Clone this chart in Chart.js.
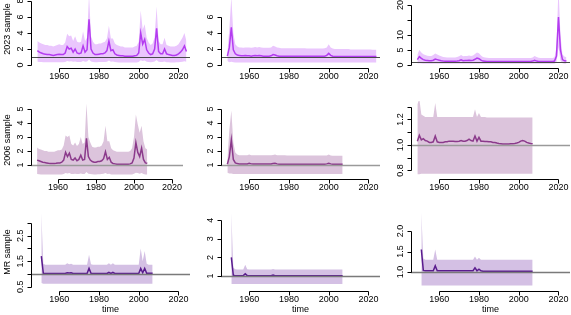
<!DOCTYPE html>
<html>
<head>
<meta charset="utf-8">
<script src="https://cdn.jsdelivr.net/npm/chart.js@4.4.1/dist/chart.umd.min.js"></script>
<style>
  html, body { margin: 0; padding: 0; background: #fff; }
  #grid { position: relative; width: 571px; height: 315px; overflow: hidden; }
  #grid canvas { position: absolute; }
</style>
</head>
<body>
<div id="grid"></div>
<script>
// Posterior median + interval of the rate multiplier, three samples x three series

function yearRange(from, to) {
    const out = [];
    for (let y = from; y <= to; y++) out.push(y);
    return out;
}

const YEARS_2023 = yearRange(1949, 2024);
const YEARS_2006 = yearRange(1949, 2007);
const YEARS_MR = yearRange(1951, 2007);
const X_TICKS = [1960, 1980, 2000, 2020];
const REF_LEVEL = 1;

// ---- 2023 sample ----
const a_med = [
    1.8, 1.6, 1.5, 1.4, 1.35, 1.3, 1.3, 1.25, 1.2, 1.25,
    1.3, 1.35, 1.3, 1.3, 1.5, 2.3, 2.0, 2.1, 1.6, 2.0,
    1.5, 1.4, 1.5, 2.4, 1.6, 1.9, 5.7, 2.0, 1.5, 1.3,
    1.3, 1.35, 1.4, 1.4, 1.5, 1.8, 3.0, 1.8, 1.9, 1.4,
    1.25, 1.2, 1.15, 1.15, 1.1, 1.1, 1.1, 1.1, 1.1, 1.15,
    1.2, 1.5, 4.0, 2.6, 3.2, 1.9, 1.5, 1.3, 1.4, 2.0,
    4.6, 1.7, 1.4, 1.4, 2.0, 1.4, 1.3, 1.25, 1.2, 1.2,
    1.25, 1.4, 1.6, 1.9, 2.4, 1.7
];
const a_hi = [
    3.0, 2.8, 2.7, 2.6, 2.5, 2.5, 2.4, 2.4, 2.3, 2.4,
    2.5, 2.6, 2.5, 2.5, 2.8, 3.9, 3.6, 3.7, 3.0, 3.6,
    2.9, 2.8, 2.9, 4.2, 3.0, 3.4, 8.8, 3.6, 2.9, 2.6,
    2.6, 2.7, 2.7, 2.8, 2.9, 3.3, 4.9, 3.3, 3.3, 2.7,
    2.5, 2.4, 2.3, 2.3, 2.2, 2.2, 2.2, 2.2, 2.2, 2.3,
    2.4, 2.9, 6.8, 4.4, 5.1, 3.4, 2.8, 2.5, 2.7, 3.5,
    7.3, 3.0, 2.6, 2.6, 3.4, 2.5, 2.4, 2.3, 2.3, 2.3,
    2.4, 2.6, 3.0, 3.4, 4.0, 3.0
];
const a_lo = [
    0.40, 0.38, 0.36, 0.35, 0.35, 0.34, 0.34, 0.33, 0.33, 0.34,
    0.35, 0.35, 0.34, 0.34, 0.38, 0.50, 0.45, 0.46, 0.40, 0.45,
    0.38, 0.37, 0.38, 0.50, 0.40, 0.44, 0.70, 0.45, 0.38, 0.35,
    0.35, 0.36, 0.36, 0.37, 0.38, 0.42, 0.55, 0.42, 0.43, 0.36,
    0.33, 0.32, 0.31, 0.31, 0.30, 0.30, 0.30, 0.30, 0.30, 0.31,
    0.32, 0.38, 0.60, 0.50, 0.55, 0.42, 0.37, 0.34, 0.36, 0.44,
    0.62, 0.40, 0.36, 0.36, 0.44, 0.35, 0.33, 0.32, 0.32, 0.32,
    0.33, 0.35, 0.38, 0.42, 0.48, 0.40
];

const b_med = [
    1.1, 2.2, 4.7, 1.9, 1.4, 1.25, 1.2, 1.15, 1.15, 1.2,
    1.15, 1.15, 1.1, 1.15, 1.2, 1.15, 1.2, 1.15, 1.1, 1.1,
    1.1, 1.1, 1.15, 1.3, 1.25, 1.15, 1.1, 1.1, 1.08, 1.08,
    1.08, 1.08, 1.08, 1.08, 1.08, 1.08, 1.08, 1.08, 1.08, 1.08,
    1.08, 1.08, 1.08, 1.08, 1.08, 1.08, 1.08, 1.08, 1.08, 1.1,
    1.2, 1.45, 1.2, 1.1, 1.06, 1.06, 1.05, 1.05, 1.05, 1.05,
    1.05, 1.05, 1.05, 1.05, 1.05, 1.05, 1.05, 1.05, 1.05, 1.05,
    1.05, 1.05, 1.05, 1.05, 1.05, 1.05
];
const b_hi = [
    1.6, 4.5, 8.5, 4.0, 2.6, 2.3, 2.2, 2.2, 2.15, 2.2,
    2.2, 2.2, 2.15, 2.2, 2.25, 2.2, 2.25, 2.2, 2.15, 2.15,
    2.15, 2.15, 2.2, 2.4, 2.3, 2.2, 2.15, 2.1, 2.1, 2.1,
    2.1, 2.1, 2.1, 2.1, 2.1, 2.1, 2.1, 2.1, 2.1, 2.1,
    2.05, 2.05, 2.05, 2.05, 2.05, 2.05, 2.05, 2.05, 2.05, 2.1,
    2.2, 2.6, 2.2, 2.05, 2.0, 2.0, 2.0, 2.0, 2.0, 2.0,
    2.0, 2.0, 1.95, 1.95, 1.95, 1.95, 1.95, 1.95, 1.95, 1.95,
    1.95, 1.95, 1.95, 1.9, 1.9, 1.9
];
const b_lo = [
    0.5, 0.35, 0.4, 0.33, 0.3, 0.3, 0.3, 0.3, 0.3, 0.3,
    0.3, 0.3, 0.3, 0.3, 0.3, 0.3, 0.3, 0.3, 0.3, 0.3,
    0.3, 0.3, 0.3, 0.3, 0.3, 0.3, 0.3, 0.3, 0.3, 0.3,
    0.3, 0.3, 0.3, 0.3, 0.3, 0.3, 0.3, 0.3, 0.3, 0.3,
    0.3, 0.3, 0.3, 0.3, 0.3, 0.3, 0.3, 0.3, 0.3, 0.3,
    0.3, 0.3, 0.3, 0.3, 0.3, 0.3, 0.3, 0.3, 0.3, 0.3,
    0.3, 0.3, 0.3, 0.3, 0.3, 0.3, 0.3, 0.3, 0.3, 0.3,
    0.3, 0.3, 0.3, 0.3, 0.3, 0.3
];

const c_med = [
    1.8, 2.8, 2.2, 1.8, 1.6, 1.5, 1.4, 1.4, 1.6, 2.0,
    1.8, 1.6, 1.4, 1.3, 1.25, 1.25, 1.25, 1.25, 1.25, 1.25,
    1.3, 1.4, 1.7, 1.4, 1.5, 1.5, 1.6, 1.5, 1.6, 1.9,
    2.3, 2.1, 1.6, 1.3, 1.25, 1.2, 1.2, 1.2, 1.2, 1.2,
    1.2, 1.2, 1.2, 1.2, 1.2, 1.2, 1.2, 1.2, 1.2, 1.2,
    1.2, 1.2, 1.2, 1.2, 1.2, 1.2, 1.2, 1.2, 1.3, 1.6,
    1.3, 1.2, 1.2, 1.2, 1.2, 1.2, 1.2, 1.2, 1.2, 1.3,
    3.0, 16.0, 5.0, 1.8, 1.4, 1.3
];
const c_hi = [
    3.5, 5.0, 4.2, 3.6, 3.3, 3.1, 3.0, 3.0, 3.3, 3.8,
    3.5, 3.2, 2.9, 2.7, 2.6, 2.5, 2.5, 2.5, 2.5, 2.5,
    2.7, 2.9, 3.3, 2.9, 3.0, 3.0, 3.2, 3.0, 3.2, 3.7,
    4.2, 3.9, 3.2, 2.7, 2.5, 2.4, 2.3, 2.3, 2.3, 2.3,
    2.3, 2.3, 2.3, 2.3, 2.3, 2.3, 2.3, 2.3, 2.3, 2.3,
    2.3, 2.3, 2.3, 2.3, 2.3, 2.3, 2.3, 2.3, 2.5, 3.0,
    2.7, 2.4, 2.3, 2.3, 2.3, 2.3, 2.3, 2.3, 2.3, 2.6,
    6.0, 26.0, 10.0, 3.5, 2.8, 2.6
];
const c_lo = [
    0.5, 0.6, 0.5, 0.45, 0.4, 0.4, 0.4, 0.4, 0.4, 0.4,
    0.4, 0.4, 0.4, 0.4, 0.4, 0.4, 0.4, 0.4, 0.4, 0.4,
    0.4, 0.4, 0.4, 0.4, 0.4, 0.4, 0.4, 0.4, 0.4, 0.4,
    0.4, 0.4, 0.4, 0.4, 0.4, 0.4, 0.4, 0.4, 0.4, 0.4,
    0.4, 0.4, 0.4, 0.4, 0.4, 0.4, 0.4, 0.4, 0.4, 0.4,
    0.4, 0.4, 0.4, 0.4, 0.4, 0.4, 0.4, 0.4, 0.4, 0.4,
    0.4, 0.4, 0.4, 0.4, 0.4, 0.4, 0.4, 0.4, 0.4, 0.4,
    0.8, 6.0, 1.5, 0.6, 0.4, 0.4
];

// ---- 2006 sample ----
const d_med = [
    1.35, 1.3, 1.25, 1.2, 1.18, 1.15, 1.12, 1.1, 1.1, 1.1,
    1.12, 1.15, 1.15, 1.2, 1.35, 1.9, 1.6, 1.85, 1.4, 1.35,
    1.5, 1.3, 1.4, 1.7, 1.35, 1.4, 2.9, 1.6, 1.35, 1.25,
    1.2, 1.2, 1.25, 1.25, 1.3, 1.45, 1.95, 1.4, 1.55, 1.2,
    1.1, 1.08, 1.05, 1.05, 1.05, 1.05, 1.05, 1.05, 1.06, 1.08,
    1.15, 1.5, 2.6, 1.9, 1.6, 2.2, 1.4, 1.15, 1.12
];
const d_hi = [
    2.25, 2.15, 2.1, 2.05, 2.0, 2.0, 1.95, 1.95, 1.95, 1.95,
    2.0, 2.05, 2.05, 2.1, 2.4, 3.1, 3.0, 3.1, 2.5, 2.4,
    2.6, 2.35, 2.5, 3.0, 2.5, 2.6, 5.4, 3.0, 2.6, 2.3,
    2.25, 2.25, 2.3, 2.3, 2.4, 2.7, 3.8, 2.7, 2.7, 2.2,
    2.05, 2.0, 1.95, 1.95, 1.95, 1.95, 1.95, 1.95, 1.95, 2.0,
    2.2, 3.0, 4.6, 3.9, 3.3, 3.8, 2.7, 2.2, 2.1
];
const d_lo = [
    0.35, 0.34, 0.33, 0.33, 0.33, 0.33, 0.33, 0.33, 0.33, 0.33,
    0.33, 0.33, 0.33, 0.33, 0.35, 0.42, 0.40, 0.42, 0.36, 0.35,
    0.37, 0.35, 0.36, 0.40, 0.35, 0.36, 0.50, 0.38, 0.35, 0.34,
    0.33, 0.33, 0.34, 0.34, 0.35, 0.37, 0.42, 0.36, 0.38, 0.33,
    0.32, 0.32, 0.32, 0.32, 0.32, 0.32, 0.32, 0.32, 0.32, 0.32,
    0.33, 0.37, 0.45, 0.42, 0.38, 0.43, 0.36, 0.33, 0.33
];

const e_med = [
    1.05, 1.6, 2.8, 1.4, 1.15, 1.1, 1.08, 1.08, 1.08, 1.08,
    1.08, 1.12, 1.08, 1.07, 1.07, 1.07, 1.07, 1.07, 1.07, 1.07,
    1.07, 1.07, 1.07, 1.1, 1.12, 1.08, 1.06, 1.06, 1.06, 1.06,
    1.06, 1.06, 1.06, 1.06, 1.06, 1.06, 1.06, 1.06, 1.06, 1.06,
    1.06, 1.06, 1.06, 1.06, 1.06, 1.06, 1.06, 1.06, 1.06, 1.06,
    1.08, 1.12, 1.08, 1.05, 1.05, 1.05, 1.05, 1.05, 1.05
];
const e_hi = [
    1.4, 3.5, 4.9, 2.6, 1.9, 1.75, 1.7, 1.7, 1.7, 1.7,
    1.7, 1.75, 1.7, 1.7, 1.7, 1.7, 1.7, 1.7, 1.7, 1.7,
    1.7, 1.7, 1.7, 1.72, 1.75, 1.7, 1.7, 1.7, 1.7, 1.7,
    1.68, 1.68, 1.68, 1.68, 1.68, 1.68, 1.68, 1.68, 1.68, 1.68,
    1.67, 1.67, 1.67, 1.67, 1.67, 1.67, 1.67, 1.67, 1.67, 1.67,
    1.68, 1.75, 1.68, 1.66, 1.66, 1.66, 1.66, 1.66, 1.66
];
const e_lo = [
    0.45, 0.4, 0.4, 0.36, 0.35, 0.35, 0.35, 0.35, 0.35, 0.35,
    0.35, 0.35, 0.35, 0.35, 0.35, 0.35, 0.35, 0.35, 0.35, 0.35,
    0.35, 0.35, 0.35, 0.35, 0.35, 0.35, 0.35, 0.35, 0.35, 0.35,
    0.35, 0.35, 0.35, 0.35, 0.35, 0.35, 0.35, 0.35, 0.35, 0.35,
    0.35, 0.35, 0.35, 0.35, 0.35, 0.35, 0.35, 0.35, 0.35, 0.35,
    0.35, 0.35, 0.35, 0.35, 0.35, 0.35, 0.35, 0.35, 0.35
];

const f_med = [
    1.03, 1.075, 1.04, 1.05, 1.035, 1.03, 1.02, 1.02, 1.025, 1.07,
    1.025, 1.02, 1.02, 1.02, 1.025, 1.025, 1.03, 1.03, 1.03, 1.028,
    1.028, 1.03, 1.035, 1.03, 1.03, 1.035, 1.045, 1.035, 1.03, 1.07,
    1.03, 1.06, 1.03, 1.03, 1.028, 1.028, 1.025, 1.025, 1.02, 1.02,
    1.015, 1.012, 1.01, 1.008, 1.008, 1.008, 1.008, 1.01, 1.01, 1.012,
    1.015, 1.02, 1.03, 1.035, 1.03, 1.02, 1.015, 1.012, 1.01
];
const f_hi = [
    1.32, 1.36, 1.24, 1.23, 1.22, 1.22, 1.22, 1.22, 1.22, 1.33,
    1.22, 1.22, 1.22, 1.22, 1.22, 1.22, 1.22, 1.22, 1.22, 1.22,
    1.22, 1.22, 1.22, 1.22, 1.22, 1.22, 1.22, 1.22, 1.22, 1.28,
    1.22, 1.25, 1.22, 1.22, 1.22, 1.215, 1.215, 1.215, 1.215, 1.215,
    1.215, 1.215, 1.215, 1.215, 1.215, 1.215, 1.215, 1.215, 1.215, 1.215,
    1.215, 1.215, 1.215, 1.215, 1.215, 1.215, 1.215, 1.215, 1.215
];
const f_lo = [
    0.77, 0.77, 0.775, 0.775, 0.775, 0.775, 0.775, 0.775, 0.775, 0.775,
    0.775, 0.775, 0.775, 0.775, 0.775, 0.775, 0.775, 0.775, 0.775, 0.775,
    0.775, 0.775, 0.775, 0.775, 0.775, 0.775, 0.775, 0.775, 0.775, 0.775,
    0.775, 0.775, 0.775, 0.775, 0.775, 0.775, 0.775, 0.775, 0.775, 0.775,
    0.775, 0.775, 0.775, 0.775, 0.775, 0.775, 0.775, 0.775, 0.775, 0.775,
    0.775, 0.775, 0.775, 0.775, 0.775, 0.775, 0.775, 0.775, 0.775
];

// ---- MR sample ----
const g_med = [
    1.7, 1.03, 1.02, 1.02, 1.02, 1.02, 1.02, 1.02, 1.02, 1.02,
    1.02, 1.02, 1.02, 1.05, 1.04, 1.05, 1.02, 1.02, 1.02, 1.02,
    1.02, 1.02, 1.02, 1.02, 1.22, 1.03, 1.02, 1.02, 1.02, 1.02,
    1.02, 1.02, 1.02, 1.02, 1.06, 1.02, 1.06, 1.02, 1.02, 1.02,
    1.02, 1.02, 1.02, 1.02, 1.02, 1.02, 1.02, 1.02, 1.02, 1.02,
    1.22, 1.05, 1.22, 1.03, 1.03, 1.03, 1.03
];
const g_hi = [
    3.4, 1.4, 1.36, 1.36, 1.36, 1.36, 1.36, 1.36, 1.36, 1.36,
    1.36, 1.36, 1.36, 1.42, 1.38, 1.4, 1.36, 1.36, 1.36, 1.36,
    1.36, 1.36, 1.36, 1.36, 1.75, 1.38, 1.36, 1.36, 1.36, 1.36,
    1.36, 1.36, 1.36, 1.36, 1.42, 1.36, 1.42, 1.36, 1.36, 1.36,
    1.36, 1.36, 1.36, 1.36, 1.36, 1.36, 1.36, 1.36, 1.36, 1.36,
    2.0, 1.5, 1.9, 1.4, 1.36, 1.36, 1.36
];
const g_lo = [
    0.65, 0.62, 0.62, 0.62, 0.62, 0.62, 0.62, 0.62, 0.62, 0.62,
    0.62, 0.62, 0.62, 0.62, 0.62, 0.62, 0.62, 0.62, 0.62, 0.62,
    0.62, 0.62, 0.62, 0.62, 0.62, 0.62, 0.62, 0.62, 0.62, 0.62,
    0.62, 0.62, 0.62, 0.62, 0.62, 0.62, 0.62, 0.62, 0.62, 0.62,
    0.62, 0.62, 0.62, 0.62, 0.62, 0.62, 0.62, 0.62, 0.62, 0.62,
    0.62, 0.62, 0.62, 0.62, 0.62, 0.62, 0.62
];

const h_med = [
    2.0, 1.04, 1.02, 1.02, 1.02, 1.02, 1.02, 1.12, 1.02, 1.02,
    1.02, 1.02, 1.02, 1.02, 1.02, 1.02, 1.02, 1.02, 1.02, 1.02,
    1.02, 1.05, 1.02, 1.02, 1.02, 1.02, 1.02, 1.02, 1.02, 1.02,
    1.02, 1.02, 1.02, 1.02, 1.02, 1.02, 1.02, 1.02, 1.02, 1.02,
    1.02, 1.02, 1.02, 1.02, 1.02, 1.02, 1.02, 1.02, 1.02, 1.02,
    1.02, 1.02, 1.02, 1.02, 1.02, 1.02, 1.02
];
const h_hi = [
    4.4, 1.45, 1.36, 1.35, 1.35, 1.35, 1.35, 1.6, 1.36, 1.35,
    1.35, 1.35, 1.35, 1.35, 1.35, 1.35, 1.35, 1.35, 1.35, 1.35,
    1.35, 1.38, 1.35, 1.35, 1.35, 1.35, 1.35, 1.35, 1.35, 1.35,
    1.35, 1.35, 1.35, 1.35, 1.35, 1.35, 1.35, 1.35, 1.35, 1.35,
    1.35, 1.35, 1.35, 1.35, 1.35, 1.35, 1.35, 1.35, 1.35, 1.35,
    1.35, 1.35, 1.35, 1.35, 1.35, 1.35, 1.35
];
const h_lo = [
    0.57, 0.57, 0.57, 0.57, 0.57, 0.57, 0.57, 0.57, 0.57, 0.57,
    0.57, 0.57, 0.57, 0.57, 0.57, 0.57, 0.57, 0.57, 0.57, 0.57,
    0.57, 0.57, 0.57, 0.57, 0.57, 0.57, 0.57, 0.57, 0.57, 0.57,
    0.57, 0.57, 0.57, 0.57, 0.57, 0.57, 0.57, 0.57, 0.57, 0.57,
    0.57, 0.57, 0.57, 0.57, 0.57, 0.57, 0.57, 0.57, 0.57, 0.57,
    0.57, 0.57, 0.57, 0.57, 0.57, 0.57, 0.57
];

const i_med = [
    1.55, 1.04, 1.03, 1.03, 1.03, 1.03, 1.03, 1.15, 1.03, 1.03,
    1.03, 1.03, 1.03, 1.03, 1.03, 1.03, 1.03, 1.03, 1.03, 1.03,
    1.03, 1.03, 1.03, 1.03, 1.03, 1.03, 1.03, 1.1, 1.03, 1.07,
    1.03, 1.02, 1.02, 1.02, 1.02, 1.02, 1.02, 1.02, 1.02, 1.02,
    1.02, 1.02, 1.02, 1.02, 1.02, 1.02, 1.02, 1.02, 1.02, 1.02,
    1.02, 1.02, 1.02, 1.02, 1.02, 1.02, 1.02
];
const i_hi = [
    2.45, 1.33, 1.3, 1.3, 1.3, 1.3, 1.3, 1.55, 1.3, 1.3,
    1.3, 1.3, 1.3, 1.3, 1.3, 1.3, 1.3, 1.3, 1.3, 1.3,
    1.3, 1.3, 1.3, 1.3, 1.3, 1.3, 1.3, 1.38, 1.3, 1.35,
    1.3, 1.3, 1.3, 1.3, 1.3, 1.3, 1.3, 1.3, 1.3, 1.3,
    1.3, 1.3, 1.3, 1.3, 1.3, 1.3, 1.3, 1.3, 1.3, 1.3,
    1.3, 1.3, 1.3, 1.3, 1.3, 1.3, 1.3
];
const i_lo = [
    0.67, 0.67, 0.67, 0.67, 0.67, 0.67, 0.67, 0.67, 0.67, 0.67,
    0.67, 0.67, 0.67, 0.67, 0.67, 0.67, 0.67, 0.67, 0.67, 0.67,
    0.67, 0.67, 0.67, 0.67, 0.67, 0.67, 0.67, 0.67, 0.67, 0.67,
    0.67, 0.67, 0.67, 0.67, 0.67, 0.67, 0.67, 0.67, 0.67, 0.67,
    0.67, 0.67, 0.67, 0.67, 0.67, 0.67, 0.67, 0.67, 0.67, 0.67,
    0.67, 0.67, 0.67, 0.67, 0.67, 0.67, 0.67
];

// ---- layout / style ----
const FONT = '9px "Liberation Sans", Arial, Helvetica, sans-serif';
const X_MIN = 1945.8;
const X_MAX = 2025.8;

const ROWS = [
    { top: -10, height: 110, padTop: 0, padBottom: 32, ylab: '2023 sample', xlab: null,
      band: '#eac6fd', line: '#b43cf0', ref: '#4a4a4a', refWidth: 1 },
    { top: 100, height: 105, padTop: 1, padBottom: 26, ylab: '2006 sample', xlab: null,
      band: '#dcc4dc', line: '#8b3a8b', ref: '#9a9a9a', refWidth: 1.6 },
    { top: 205, height: 110, padTop: 8, padBottom: 24, ylab: 'MR sample', xlab: 'time',
      band: '#d4c0e4', line: '#5a1c8e', ref: '#7a7a7a', refWidth: 1.3 }
];
const COLS = [
    { left: 0, width: 190, padLeft: 31, padRight: 0 },
    { left: 190, width: 190, padLeft: 31, padRight: 0 },
    { left: 380, width: 191, padLeft: 31, padRight: 1 }
];

const PANELS = [
    { row: 0, col: 0, years: YEARS_2023, med: a_med, lo: a_lo, hi: a_hi, yMin: -0.375, yMax: 9.375,
      yTicks: [0, 2, 4, 6, 8], yLabels: ['0', '2', '4', '6', '8'] },
    { row: 0, col: 1, years: YEARS_2023, med: b_med, lo: b_lo, hi: b_hi, yMin: -0.375, yMax: 9.375,
      yTicks: [0, 2, 4, 6], yLabels: ['0', '2', '4', '6'] },
    { row: 0, col: 2, years: YEARS_2023, med: c_med, lo: c_lo, hi: c_hi, yMin: -1, yMax: 25,
      yTicks: [0, 5, 10, 15, 20], yLabels: ['0', '5', '10', '', '20'] },
    { row: 1, col: 0, years: YEARS_2006, med: d_med, lo: d_lo, hi: d_hi, yMin: 0, yMax: 5.571, padRight: 7,
      yTicks: [1, 2, 3, 4, 5], yLabels: ['1', '2', '3', '4', '5'] },
    { row: 1, col: 1, years: YEARS_2006, med: e_med, lo: e_lo, hi: e_hi, yMin: 0, yMax: 5.571,
      yTicks: [1, 2, 3, 4, 5], yLabels: ['1', '2', '3', '4', '5'] },
    { row: 1, col: 2, years: YEARS_2006, med: f_med, lo: f_lo, hi: f_hi, yMin: 0.733, yMax: 1.345,
      yTicks: [0.8, 0.9, 1.0, 1.1, 1.2, 1.3], yLabels: ['0.8', '', '1.0', '', '1.2', ''] },
    { row: 2, col: 0, years: YEARS_MR, med: g_med, lo: g_lo, hi: g_hi, yMin: 0.333, yMax: 3.392,
      yTicks: [0.5, 1, 1.5, 2, 2.5, 3], yLabels: ['0.5', '', '1.5', '', '2.5', ''] },
    { row: 2, col: 1, years: YEARS_MR, med: h_med, lo: h_lo, hi: h_hi, yMin: 0.194, yMax: 4.387,
      yTicks: [1, 2, 3, 4], yLabels: ['1', '2', '3', '4'] },
    { row: 2, col: 2, years: YEARS_MR, med: i_med, lo: i_lo, hi: i_hi, yMin: 0.537, yMax: 2.439,
      yTicks: [1.0, 1.5, 2.0], yLabels: ['1.0', '1.5', '2.0'] }
];

// Reference line at 1 and base-graphics style axes
const baseAxesPlugin = {
    id: 'baseAxes',
    afterDatasetsDraw(chart, args, opts) {
        const ctx = chart.ctx;
        const area = chart.chartArea;
        const y = Math.round(chart.scales.y.getPixelForValue(REF_LEVEL)) + 0.5;
        ctx.save();
        ctx.beginPath();
        ctx.rect(area.left, area.top, area.right - area.left, area.bottom - area.top);
        ctx.clip();
        ctx.strokeStyle = opts.ref;
        ctx.lineWidth = opts.refWidth;
        ctx.beginPath();
        ctx.moveTo(area.left, y);
        ctx.lineTo(area.right, y);
        ctx.stroke();
        ctx.restore();
    },
    afterDraw(chart, args, opts) {
        const ctx = chart.ctx;
        const area = chart.chartArea;
        const xs = chart.scales.x;
        const ys = chart.scales.y;
        ctx.save();
        ctx.strokeStyle = '#000';
        ctx.fillStyle = '#000';
        ctx.lineWidth = 1;
        ctx.font = FONT;

        // x axis
        const ax = area.bottom + 0.5;
        const x0 = Math.round(xs.getPixelForValue(X_TICKS[0])) + 0.5;
        const x1 = Math.round(xs.getPixelForValue(X_TICKS[X_TICKS.length - 1])) + 0.5;
        ctx.beginPath();
        ctx.moveTo(x0, ax);
        ctx.lineTo(x1, ax);
        X_TICKS.forEach(t => {
            const px = Math.round(xs.getPixelForValue(t)) + 0.5;
            ctx.moveTo(px, ax);
            ctx.lineTo(px, ax + 4);
        });
        ctx.stroke();
        ctx.textAlign = 'center';
        ctx.textBaseline = 'middle';
        X_TICKS.forEach(t => {
            ctx.fillText(String(t), xs.getPixelForValue(t), area.bottom + 9);
        });

        // y axis
        const ay = area.left + 0.5;
        const yt = opts.yTicks;
        const yTop = Math.round(ys.getPixelForValue(yt[yt.length - 1])) + 0.5;
        const yBot = Math.round(ys.getPixelForValue(yt[0])) + 0.5;
        ctx.beginPath();
        ctx.moveTo(ay, yTop);
        ctx.lineTo(ay, yBot);
        yt.forEach(t => {
            const py = Math.round(ys.getPixelForValue(t)) + 0.5;
            ctx.moveTo(ay, py);
            ctx.lineTo(ay - 4, py);
        });
        ctx.stroke();
        yt.forEach((t, k) => {
            const lbl = opts.yLabels[k];
            if (!lbl) return;
            ctx.save();
            ctx.translate(area.left - 10, ys.getPixelForValue(t));
            ctx.rotate(-Math.PI / 2);
            ctx.fillText(lbl, 0, 0);
            ctx.restore();
        });

        // axis titles
        if (opts.ylab) {
            ctx.save();
            ctx.translate(8, (area.top + area.bottom) / 2);
            ctx.rotate(-Math.PI / 2);
            ctx.fillText(opts.ylab, 0, 0);
            ctx.restore();
        }
        if (opts.xlab) {
            ctx.fillText(opts.xlab, (area.left + area.right) / 2, area.bottom + 19);
        }
        ctx.restore();
    }
};

function toPoints(years, values) {
    return years.map((x, i) => ({ x: x, y: values[i] }));
}

const grid = document.getElementById('grid');

PANELS.forEach(p => {
    const row = ROWS[p.row];
    const col = COLS[p.col];
    const canvas = document.createElement('canvas');
    canvas.width = col.width;
    canvas.height = row.height;
    canvas.style.left = col.left + 'px';
    canvas.style.top = row.top + 'px';
    canvas.style.width = col.width + 'px';
    canvas.style.height = row.height + 'px';
    grid.appendChild(canvas);

    new Chart(canvas.getContext('2d'), {
        type: 'line',
        data: {
            datasets: [
                {
                    label: 'lower',
                    data: toPoints(p.years, p.lo),
                    borderWidth: 0,
                    pointRadius: 0,
                    fill: false,
                    order: 2
                },
                {
                    label: 'upper',
                    data: toPoints(p.years, p.hi),
                    borderWidth: 0,
                    pointRadius: 0,
                    backgroundColor: row.band,
                    fill: '-1',
                    order: 1
                },
                {
                    // median drawn last (lowest order sits on top)
                    label: 'median',
                    data: toPoints(p.years, p.med),
                    borderColor: row.line,
                    borderWidth: 1.5,
                    pointRadius: 0,
                    fill: false,
                    order: 0
                }
            ]
        },
        options: {
            responsive: false,
            animation: false,
            devicePixelRatio: 1,
            events: [],
            layout: {
                padding: {
                    left: col.padLeft,
                    right: p.padRight !== undefined ? p.padRight : col.padRight,
                    top: row.padTop,
                    bottom: row.padBottom
                }
            },
            scales: {
                x: { type: 'linear', min: X_MIN, max: X_MAX, display: false },
                y: { type: 'linear', min: p.yMin, max: p.yMax, display: false }
            },
            plugins: {
                legend: { display: false },
                tooltip: { enabled: false },
                baseAxes: {
                    yTicks: p.yTicks,
                    yLabels: p.yLabels,
                    ylab: p.col === 0 ? row.ylab : null,
                    xlab: row.xlab,
                    ref: row.ref,
                    refWidth: row.refWidth
                }
            }
        },
        plugins: [baseAxesPlugin]
    });
});
</script>
</body>
</html>
